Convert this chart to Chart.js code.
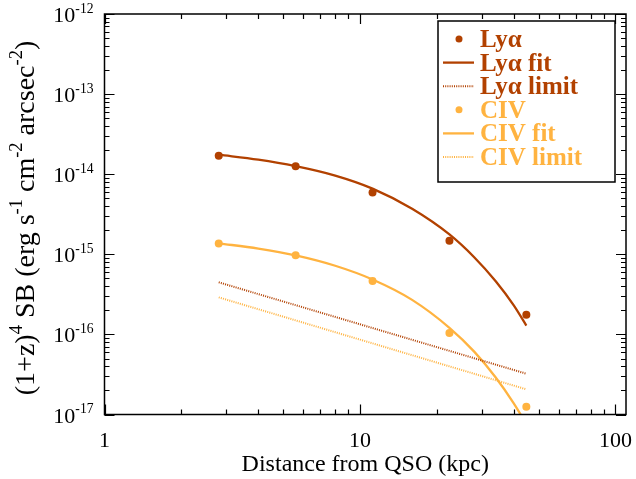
<!DOCTYPE html>
<html>
<head>
<meta charset="utf-8">
<script src="https://cdn.jsdelivr.net/npm/chart.js@4.4.0/dist/chart.umd.min.js"></script>
<style>
  html, body { margin: 0; padding: 0; background: #fff; }
</style>
</head>
<body>
<canvas id="sbChart" width="636" height="479"></canvas>
<script>
// distance of each annulus from the quasar (kpc)
const distKpc = [2.8, 5.6, 11.2, 22.4, 44.8];
// measured surface brightness, (1+z)^4 corrected
const lyaSB = [1.70e-14, 1.26e-14, 5.9e-15, 1.48e-15, 1.76e-16];
const civSB = [1.36e-15, 9.7e-16, 4.64e-16, 1.04e-16, 1.25e-17];
// fitted profiles
const fitKpc = [2.8, 4, 5.6, 8, 11.2, 16, 22.4, 28, 34, 40, 44.8];
const lyaFit = [1.75e-14, 1.52e-14, 1.26e-14, 9.6e-15, 6.6e-15, 3.7e-15, 1.77e-15, 9.2e-16, 4.6e-16, 2.3e-16, 1.29e-16];
const civFit = [1.37e-15, 1.18e-15, 9.7e-16, 7.2e-16, 4.85e-16, 2.7e-16, 1.21e-16, 6.1e-17, 2.9e-17, 1.38e-17, 7.6e-18];
// detection limits
const limitKpc = [2.8, 44.8];
const lyaLimit = [4.47e-16, 3.23e-17];
const civLimit = [2.9e-16, 2.06e-17];

// axis labels
const xTickValues = [1, 10, 100];
const xTickLabels = ['1', '10', '100'];
const yTickExponents = [-17, -16, -15, -14, -13, -12];

const LYA = '#b24100';
const CIV = '#ffb340';
const SERIF = "'Liberation Serif', 'Times New Roman', serif";

const pairs = (xs, ys) => xs.map((x, i) => ({ x: x, y: ys[i] }));

// draws a run of text pieces, some of them as superscripts
function drawRich(ctx, parts, x, y, size, supScale) {
    let cx = x;
    parts.forEach(p => {
        const s = p.sup ? size * supScale : size;
        ctx.font = s + 'px ' + SERIF;
        ctx.fillText(p.t, cx, p.sup ? y - size * 0.42 : y);
        cx += ctx.measureText(p.t).width;
    });
}
function richWidth(ctx, parts, size, supScale) {
    let w = 0;
    parts.forEach(p => {
        ctx.font = (p.sup ? size * supScale : size) + 'px ' + SERIF;
        w += ctx.measureText(p.t).width;
    });
    return w;
}

// frame with inward ticks on every side, tick labels, titles and the legend box
const framePlugin = {
    id: 'frame',
    afterDatasetsDraw(chart) {
        const ctx = chart.ctx;
        const a = chart.chartArea;
        const xs = chart.scales.x, ys = chart.scales.y;
        ctx.save();
        ctx.strokeStyle = '#000';
        ctx.fillStyle = '#000';
        ctx.lineWidth = 1.5;
        ctx.strokeRect(a.left, a.top, a.right - a.left, a.bottom - a.top);

        ctx.lineWidth = 1.2;
        ctx.beginPath();
        // x ticks
        for (let e = 0; e <= 2; e++) {
            for (let d = 1; d <= 9; d++) {
                const v = d * Math.pow(10, e);
                if (v > xs.max) break;
                const px = Math.round(xs.getPixelForValue(v)) + 0.5;
                const len = d === 1 ? 10 : 5;
                ctx.moveTo(px, a.bottom); ctx.lineTo(px, a.bottom - len);
                ctx.moveTo(px, a.top); ctx.lineTo(px, a.top + len);
            }
        }
        // y ticks
        for (let e = -17; e <= -12; e++) {
            for (let d = 1; d <= 9; d++) {
                if (e === -12 && d > 1) break;
                const v = d * Math.pow(10, e);
                const py = Math.round(ys.getPixelForValue(v)) + 0.5;
                const len = d === 1 ? 10 : 5;
                ctx.moveTo(a.left, py); ctx.lineTo(a.left + len, py);
                ctx.moveTo(a.right, py); ctx.lineTo(a.right - len, py);
            }
        }
        ctx.stroke();

        // tick labels
        ctx.textBaseline = 'alphabetic';
        ctx.textAlign = 'center';
        ctx.font = '22px ' + SERIF;
        xTickValues.forEach((v, i) => {
            ctx.fillText(xTickLabels[i], xs.getPixelForValue(v), a.bottom + 32);
        });
        ctx.textAlign = 'left';
        yTickExponents.forEach(e => {
            const parts = [{ t: '10' }, { t: '-' + Math.abs(e), sup: true }];
            const w = richWidth(ctx, parts, 22, 0.62);
            drawRich(ctx, parts, a.left - 11 - w, ys.getPixelForValue(Math.pow(10, e)) + 8, 22, 0.62);
        });

        // axis titles
        ctx.font = '24px ' + SERIF;
        ctx.textAlign = 'center';
        ctx.fillText('Distance from QSO (kpc)', (a.left + a.right) / 2, 471);

        const yTitle = [
            { t: '(1+z)' }, { t: '4', sup: true }, { t: ' SB (erg s' }, { t: '-1', sup: true },
            { t: ' cm' }, { t: '-2', sup: true }, { t: ' arcsec' }, { t: '-2', sup: true }, { t: ')' }
        ];
        ctx.textAlign = 'left';
        const tw = richWidth(ctx, yTitle, 28, 0.66);
        ctx.translate(34, 218);
        ctx.rotate(-Math.PI / 2);
        drawRich(ctx, yTitle, -tw / 2, 0, 28, 0.66);
        ctx.restore();

        // legend
        ctx.save();
        const box = { left: 438, top: 21, right: a.right - 11, bottom: 182 };
        ctx.fillStyle = '#fff';
        ctx.fillRect(box.left, box.top, box.right - box.left, box.bottom - box.top);
        ctx.strokeStyle = '#000';
        ctx.lineWidth = 1.5;
        ctx.strokeRect(box.left, box.top, box.right - box.left, box.bottom - box.top);
        ctx.font = 'bold 25px ' + SERIF;
        ctx.textAlign = 'left';
        chart.data.datasets.forEach((ds, i) => {
            const cy = 39 + i * 23.6;
            const col = ds.borderColor;
            if (ds.showLine === false) {
                ctx.fillStyle = ds.pointBackgroundColor;
                ctx.beginPath();
                ctx.arc(459, cy, 3.5, 0, Math.PI * 2);
                ctx.fill();
            } else {
                ctx.strokeStyle = col;
                ctx.lineWidth = ds.borderWidth;
                ctx.setLineDash(ds.borderDash || []);
                ctx.beginPath();
                ctx.moveTo(443, cy);
                ctx.lineTo(474, cy);
                ctx.stroke();
                ctx.setLineDash([]);
            }
            ctx.fillStyle = col;
            ctx.fillText(ds.label, 480, cy + 8);
        });
        ctx.restore();
    }
};

const ctx = document.getElementById('sbChart').getContext('2d');
new Chart(ctx, {
    type: 'line',
    data: {
        datasets: [
            { label: 'Lyα', data: pairs(distKpc, lyaSB), showLine: false,
              borderColor: LYA, pointBackgroundColor: LYA, pointRadius: 4, pointBorderWidth: 0 },
            { label: 'Lyα fit', data: pairs(fitKpc, lyaFit), borderColor: LYA, borderWidth: 2.3,
              pointRadius: 0, cubicInterpolationMode: 'monotone' },
            { label: 'Lyα limit', data: pairs(limitKpc, lyaLimit), borderColor: LYA, borderWidth: 2,
              borderDash: [1, 1.2], pointRadius: 0 },
            { label: 'CIV', data: pairs(distKpc, civSB), showLine: false,
              borderColor: CIV, pointBackgroundColor: CIV, pointRadius: 4, pointBorderWidth: 0 },
            { label: 'CIV fit', data: pairs(fitKpc, civFit), borderColor: CIV, borderWidth: 2.3,
              pointRadius: 0, cubicInterpolationMode: 'monotone' },
            { label: 'CIV limit', data: pairs(limitKpc, civLimit), borderColor: CIV, borderWidth: 2,
              borderDash: [1, 1.2], pointRadius: 0 }
        ]
    },
    options: {
        responsive: false,
        animation: false,
        devicePixelRatio: 1,
        layout: { padding: { left: 104.5, right: 10, top: 14, bottom: 64.5 } },
        scales: {
            x: { type: 'logarithmic', min: 1, max: 110, display: false },
            y: { type: 'logarithmic', min: 1e-17, max: 1e-12, display: false }
        },
        plugins: {
            legend: { display: false },
            tooltip: { enabled: false }
        }
    },
    plugins: [framePlugin]
});
</script>
</body>
</html>
